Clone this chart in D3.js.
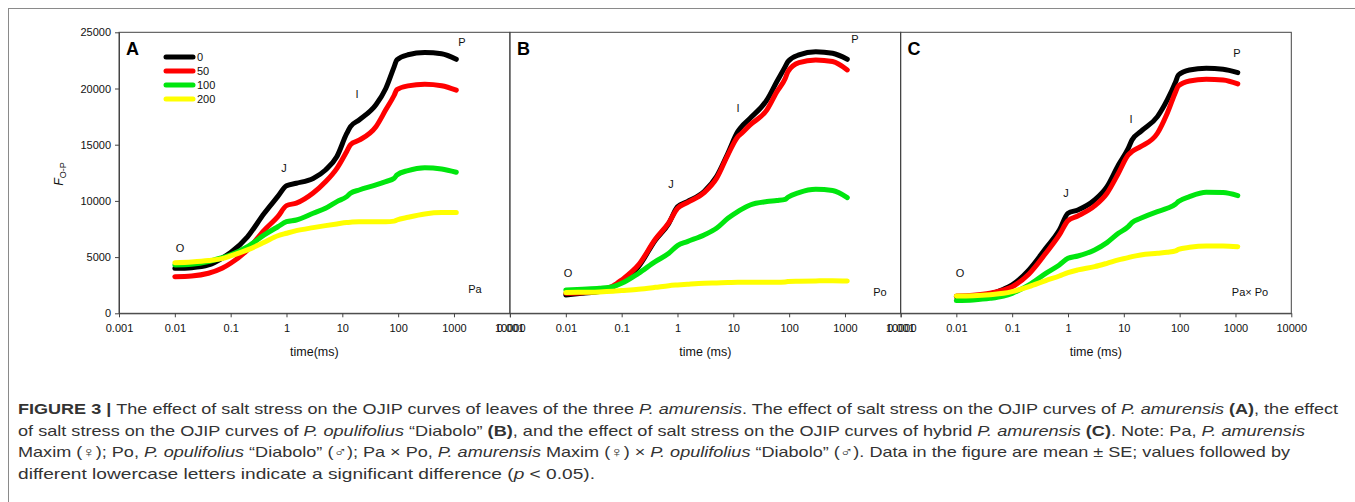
<!DOCTYPE html>
<html>
<head>
<meta charset="utf-8">
<script src="https://cdn.jsdelivr.net/npm/d3@7"></script>
<style>
  body { margin: 0; background: #fff; }
  svg { display: block; font-family: "Liberation Sans", Arial, sans-serif; }
</style>
</head>
<body>
<div id="chart"></div>
<script>
// time points (ms) shared by every curve
const times = [0.01, 0.02, 0.04, 0.07, 0.1, 0.2, 0.4, 0.7, 1, 1.5, 3, 5, 8, 12, 14, 20, 40, 60, 85, 95, 150, 300, 600, 1100];

const saltLevels = ['0', '50', '100', '200'];

// Pa
const pa0   = [4000, 4060, 4300, 4900, 5400, 6800, 8900, 10400, 11350, 11570, 12000, 12750, 13950, 16000, 16600, 17200, 18550, 20000, 21950, 22550, 23000, 23200, 23100, 22600];
const pa50  = [3260, 3320, 3560, 4000, 4450, 5640, 7400, 8600, 9580, 9800, 10700, 11700, 12900, 14400, 15000, 15400, 16600, 18100, 19400, 19900, 20230, 20380, 20250, 19850];
const pa100 = [4300, 4360, 4600, 4950, 5200, 5930, 6970, 7700, 8150, 8300, 8900, 9340, 9940, 10380, 10680, 10970, 11420, 11720, 12010, 12300, 12700, 12960, 12840, 12550];
const pa200 = [4500, 4570, 4690, 4860, 5100, 5640, 6320, 6900, 7120, 7350, 7620, 7800, 7950, 8070, 8100, 8150, 8150, 8150, 8200, 8300, 8540, 8840, 8960, 8960];

// Po
const po0   = [1630, 1780, 1930, 2370, 2820, 4150, 6500, 8000, 9490, 9940, 10830, 12160, 14240, 16160, 16600, 17350, 18980, 20600, 21950, 22400, 22990, 23280, 23130, 22600];
const po50  = [1780, 1830, 2020, 2430, 2970, 4300, 6580, 8070, 9340, 9850, 10740, 12000, 14100, 15700, 16000, 16760, 18100, 19700, 20900, 21500, 22300, 22540, 22400, 21650];
const po100 = [2080, 2140, 2220, 2370, 2670, 3560, 4600, 5340, 6020, 6380, 6970, 7560, 8450, 9050, 9250, 9640, 9940, 10030, 10140, 10320, 10740, 11030, 10920, 10290];
const po200 = [1840, 1870, 1900, 1960, 2020, 2140, 2310, 2460, 2520, 2580, 2670, 2700, 2730, 2760, 2760, 2760, 2760, 2760, 2790, 2820, 2850, 2880, 2900, 2880];

// Pa x Po
const hy0   = [1480, 1540, 1720, 2140, 2520, 3860, 5780, 7400, 8900, 9190, 10080, 11270, 13200, 14680, 15420, 16160, 17500, 18980, 20610, 21200, 21650, 21800, 21710, 21410];
const hy50  = [1540, 1600, 1780, 2080, 2370, 3500, 5340, 6970, 8250, 8660, 9550, 10680, 12460, 14090, 14390, 14830, 16020, 17800, 19720, 20230, 20670, 20820, 20760, 20410];
const hy100 = [1130, 1190, 1330, 1540, 1780, 2520, 3560, 4300, 4890, 5100, 5640, 6290, 7120, 7710, 8070, 8450, 9050, 9340, 9730, 9940, 10380, 10770, 10740, 10470];
const hy200 = [1540, 1570, 1660, 1780, 1930, 2370, 2910, 3320, 3620, 3860, 4150, 4450, 4750, 4950, 5040, 5190, 5340, 5430, 5550, 5690, 5870, 5990, 5990, 5930];

const xTicks = [0.001, 0.01, 0.1, 1, 10, 100, 1000, 10000];
const xTickLabels = ['0.001', '0.01', '0.1', '1', '10', '100', '1000', '10000'];
const yTicks = [0, 5000, 10000, 15000, 20000, 25000];

// OJIP point labels: [label, time, value]
const marksA = [['O', 0.0124, 5450], ['J', 0.9, 12560], ['I', 18.2, 19150], ['P', 1380, 23780]];
const marksB = [['O', 0.0109, 3230], ['J', 0.76, 11150], ['I', 12.1, 17910], ['P', 1500, 24050]];
const marksC = [['O', 0.0116, 3230], ['J', 0.92, 10350], ['I', 13.4, 16920], ['P', 1057, 22800]];

const panels = [
  { letter: 'A', name: 'Pa', nameAt: [2360, 1800], xLabel: 'time(ms)', series: [pa0, pa50, pa100, pa200], marks: marksA },
  { letter: 'B', name: 'Po', nameAt: [4200, 1540], xLabel: 'time (ms)', series: [po0, po50, po100, po200], marks: marksB },
  { letter: 'C', name: 'Pa\u00d7 Po', nameAt: [1807, 1540], xLabel: 'time (ms)', series: [hy0, hy50, hy100, hy200], marks: marksC }
];

const colors = ['#000000', '#ff0000', '#00e60e', '#ffff00'];

const W = 1355, H = 502;
const plotTop = 32.3, plotBottom = 313.3;
const panelLeft = [119, 510, 900.5];
const panelW = 390.8;

const svg = d3.select('#chart').append('svg')
  .attr('width', W).attr('height', H);

svg.append('rect').attr('width', W).attr('height', H).attr('fill', '#fff');

// outer figure box
svg.append('rect')
  .attr('x', 8.5).attr('y', 8.5)
  .attr('width', 1360).attr('height', 510)
  .attr('fill', 'none').attr('stroke', '#8a8a8a').attr('stroke-width', 1);

const y = d3.scaleLinear().domain([0, 25000]).range([plotBottom, plotTop]);

panels.forEach((p, i) => {
  const x0 = panelLeft[i];
  const x = d3.scaleLog().domain([0.001, 10000]).range([x0, x0 + panelW]);
  const g = svg.append('g');

  // frame
  g.append('rect')
    .attr('x', x0).attr('y', plotTop)
    .attr('width', panelW).attr('height', plotBottom - plotTop)
    .attr('fill', 'none').attr('stroke', '#444').attr('stroke-width', 1);

  const xAxis = g.append('g')
    .attr('transform', 'translate(0,' + plotBottom + ')')
    .call(d3.axisBottom(x).tickValues(xTicks).tickSize(4).tickSizeOuter(0)
      .tickFormat((d, k) => xTickLabels[k]));
  xAxis.select('.domain').attr('stroke', '#444');
  xAxis.selectAll('line').attr('stroke', '#444');
  xAxis.selectAll('text').attr('font-size', 11).attr('fill', '#111')
    .attr('font-family', '"Liberation Sans", Arial, sans-serif').attr('dy', '1.05em');

  if (i === 0) {
    const yAxis = g.append('g')
      .attr('transform', 'translate(' + x0 + ',0)')
      .call(d3.axisLeft(y).tickValues(yTicks).tickSize(4).tickSizeOuter(0).tickFormat(d3.format('d')));
    yAxis.select('.domain').attr('stroke', '#444');
    yAxis.selectAll('line').attr('stroke', '#444');
    yAxis.selectAll('text').attr('font-size', 11).attr('fill', '#111')
      .attr('font-family', '"Liberation Sans", Arial, sans-serif').attr('x', -8);
  }

  // curves
  const line = d3.line()
    .x((d, k) => x(times[k]))
    .y(d => y(d))
    .curve(d3.curveMonotoneX);

  p.series.forEach((s, k) => {
    g.append('path')
      .datum(s)
      .attr('d', line)
      .attr('fill', 'none')
      .attr('stroke', colors[k])
      .attr('stroke-width', 5)
      .attr('stroke-linecap', 'round')
      .attr('stroke-linejoin', 'round');
  });

  // OJIP labels
  g.selectAll('.mark')
    .data(p.marks)
    .enter().append('text')
    .attr('x', d => Math.round(x(d[1])))
    .attr('y', d => Math.round(y(d[2])))
    .attr('text-anchor', 'middle')
    .attr('font-size', 11)
    .attr('fill', '#111')
    .text(d => d[0]);

  g.append('text')
    .attr('x', Math.round(x(p.nameAt[0]))).attr('y', Math.round(y(p.nameAt[1])))
    .attr('text-anchor', 'middle')
    .attr('font-size', 11).attr('fill', '#111')
    .text(p.name);

  g.append('text')
    .attr('x', x0 + 7).attr('y', plotTop + 23)
    .attr('font-size', 18).attr('font-weight', 'bold')
    .text(p.letter);

  g.append('text')
    .attr('x', x0 + panelW / 2).attr('y', 356)
    .attr('text-anchor', 'middle')
    .attr('font-size', 12.5).attr('fill', '#111')
    .text(p.xLabel);
});

// y label F_O-P
const yl = svg.append('text')
  .attr('transform', 'translate(63,174) rotate(-90)')
  .attr('text-anchor', 'middle')
  .attr('fill', '#111');
yl.append('tspan').attr('font-size', 12.5).attr('font-style', 'italic').text('F');
yl.append('tspan').attr('font-size', 9).attr('dy', 3).text('O-P');

// legend
const legend = svg.append('g');
saltLevels.forEach((lv, k) => {
  const ly = 57 + k * 14;
  legend.append('line')
    .attr('x1', 166).attr('x2', 193).attr('y1', ly).attr('y2', ly)
    .attr('stroke', colors[k]).attr('stroke-width', 5).attr('stroke-linecap', 'round');
  legend.append('text')
    .attr('x', 197).attr('y', ly + 4)
    .attr('font-size', 11).attr('fill', '#111')
    .text(lv);
});

// caption
const caption = [
  { end: 1338, parts: [['FIGURE 3 | ', 'b'], ['The effect of salt stress on the OJIP curves of leaves of the three ', 'n'], ['P. amurensis', 'i'], ['. The effect of salt stress on the OJIP curves of ', 'n'], ['P. amurensis', 'i'], [' ', 'n'], ['(A)', 'b'], [', the effect', 'n']] },
  { end: 1305, parts: [['of salt stress on the OJIP curves of ', 'n'], ['P. opulifolius', 'i'], [' \u201cDiabolo\u201d ', 'n'], ['(B)', 'b'], [', and the effect of salt stress on the OJIP curves of hybrid ', 'n'], ['P. amurensis', 'i'], [' ', 'n'], ['(C)', 'b'], ['. Note: Pa, ', 'n'], ['P. amurensis', 'i']] },
  { end: 1290, parts: [['Maxim (\u2640); Po, ', 'n'], ['P. opulifolius', 'i'], [' \u201cDiabolo\u201d (\u2642); Pa \u00d7 Po, ', 'n'], ['P. amurensis', 'i'], [' Maxim (\u2640) \u00d7 ', 'n'], ['P. opulifolius', 'i'], [' \u201cDiabolo\u201d (\u2642). Data in the figure are mean \u00b1 SE; values followed by', 'n']] },
  { end: 595, parts: [['different lowercase letters indicate a significant difference (', 'n'], ['p', 'i'], [' < 0.05).', 'n']] }
];

caption.forEach((ln, k) => {
  const t = svg.append('text')
    .attr('x', 18).attr('y', 414 + k * 21.5)
    .attr('font-size', 14.5)
    .attr('fill', '#333')
    .attr('textLength', ln.end - 18)
    .attr('lengthAdjust', 'spacingAndGlyphs');
  ln.parts.forEach(pt => {
    const s = t.append('tspan').text(pt[0]);
    if (pt[1] === 'b') s.attr('font-weight', 'bold');
    if (pt[1] === 'i') s.attr('font-style', 'italic');
  });
});
</script>
</body>
</html>
